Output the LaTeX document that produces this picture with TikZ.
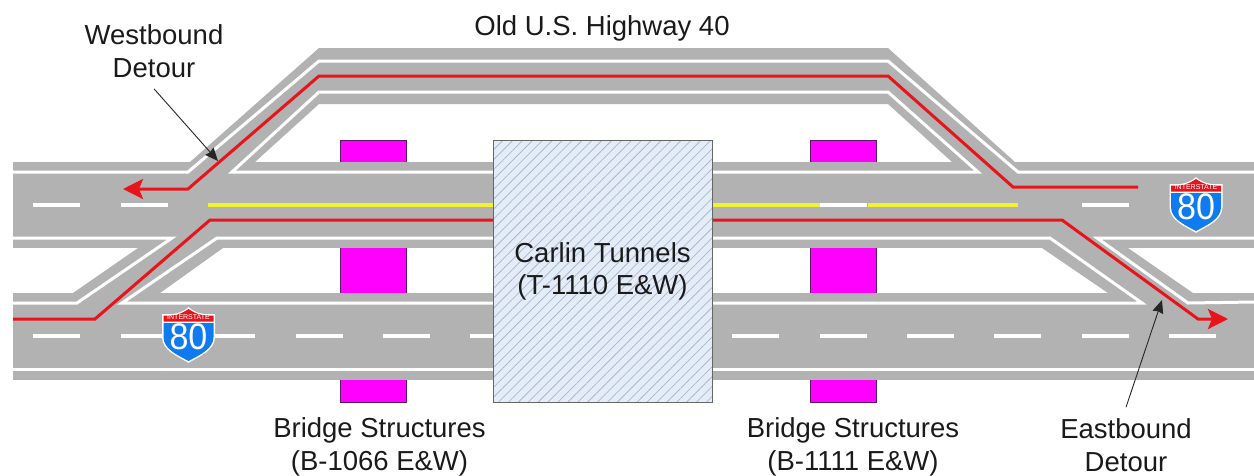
\documentclass[tikz,border=0pt]{standalone}
\usepackage{fontspec}
\setmainfont{Liberation Sans}
\usetikzlibrary{positioning,arrows.meta,patterns.meta}
\definecolor{hwRoad}{HTML}{B2B2B2}
\definecolor{hwRed}{HTML}{E8141C}
\definecolor{hwYellow}{HTML}{F2F230}
\definecolor{hwBridge}{HTML}{FF00FF}
\definecolor{hwBridgeD}{HTML}{5A1A6E}
\definecolor{hwTunnel}{HTML}{E4ECF8}
\definecolor{hwHatch}{HTML}{A9BACF}
\definecolor{hwBlue}{HTML}{0F7BEE}
\definecolor{hwText}{HTML}{1A1A1A}
\tikzset{
  hw-road/.style={fill=hwRoad},
  hw-edge/.style={draw=white, line width=3pt},
  hw-dash/.style={draw=white, line width=3.5pt},
  hw-center/.style={draw=hwYellow, line width=3.5pt},
  hw-detour/.style={draw=hwRed, line width=3pt,
    -{Stealth[length=20pt,width=20pt,inset=4pt]}},
  hw-bridge/.style={draw=hwBridgeD, line width=0.8pt, fill=hwBridge,
    minimum width=66pt, minimum height=262pt, inner sep=0pt},
  hw-tunnel/.style={draw=black!60, line width=1pt, preaction={fill=hwTunnel},
    pattern={Lines[angle=45,distance=7pt,line width=0.8pt]},
    pattern color=hwHatch, minimum width=219pt, minimum height=262pt,
    align=center, text=hwText, font=\fontsize{27.5}{32}\selectfont},
  hw-label/.style={align=center, inner sep=0pt, text=hwText,
    font=\fontsize{27.5}{33}\selectfont},
  hw-call/.style={draw=black!85, line width=0.9pt,
    -{Stealth[length=13pt,width=11pt,inset=1pt]}},
  hw-shield/.pic={
    \fill[white] (-26.5,6) .. controls (-14,7) and (-7,5) .. (0,-0.8)
      .. controls (7,5) and (14,7) .. (26.5,6) -- (26.5,29)
      .. controls (26.5,42) and (12,48) .. (0,54.8)
      .. controls (-12,48) and (-26.5,42) .. (-26.5,29) -- cycle;
    \fill[hwBlue] (-25,15) -- (25,15) -- (25,29)
      .. controls (25,41) and (11,47) .. (0,53)
      .. controls (-11,47) and (-25,41) .. (-25,29) -- cycle;
    \fill[hwRed] (-25,7.5) .. controls (-14,8) and (-7,6) .. (0,1)
      .. controls (7,6) and (14,8) .. (25,7.5) -- (25,13.5) -- (-25,13.5) -- cycle;
    \node[text=white, inner sep=0pt, font=\fontsize{7}{7}\selectfont]
      at (0,9.5) {INTERSTATE};
    \node[text=white, inner sep=0pt, xscale=0.92, font=\fontsize{37}{37}\selectfont]
      at (0,29) {80};
  }
}
\begin{document}
\begin{tikzpicture}[x=1pt,y=-1pt]
\useasboundingbox (0,0) rectangle (1254,475);

% bridges below the roads
\node[hw-bridge] (bridgeW) at (373.5,271) {};
\node[hw-bridge] (bridgeE) at (843,271) {};

% road surface
\fill[hw-road] (13,162) rectangle (1254,248);
\fill[hw-road] (13,293) rectangle (1254,380);
\fill[hw-road] (190,162) -- (319,48) -- (888,48) -- (1015,162) -- (952,162)
  -- (888,104) -- (319,104) -- (255,162) -- cycle;
\fill[hw-road] (138,248) -- (73,293) -- (160,293) -- (223,248) -- cycle;
\fill[hw-road] (1042,248) -- (1108,293) -- (1193,293) -- (1128,248) -- cycle;

% edge lines
\draw[hw-edge] (13,172) -- (188,172) -- (319,61) -- (888,61) -- (1018,172)
  -- (1254,172);
\draw[hw-edge] (232,172) -- (319,92) -- (888,92) -- (978,172) -- cycle;
\draw[hw-edge] (13,238) -- (172,238) -- (77,303) -- (13,303);
\draw[hw-edge] (217,238) -- (1050,238) -- (1142,303) -- (122,303) -- cycle;
\draw[hw-edge] (1254,238) -- (1097,238) -- (1188,303) -- (1254,302);
\draw[hw-edge] (13,369) -- (1254,369);

% lane dashes
\foreach \x in {33,120.5,820,1082}
  \draw[hw-dash] (\x,205) -- ++(47,0);
\foreach \x in {33,120.5,208,295.5,382.5,470,732,820,907,994,1082,1169}
  \draw[hw-dash] (\x,336) -- ++(47,0);
\draw[hw-center] (208,205) -- (493,205);
\draw[hw-center] (712,205) -- (820,205);
\draw[hw-center] (868,205) -- (1018,205);

% detours
\coordinate (wbStart) at (1138,187);
\coordinate (wbEnd) at (123,189);
\coordinate (ebStart) at (13,319);
\coordinate (ebEnd) at (1228,319);
\draw[hw-detour] (wbStart) -- (1013,187) -- (888,76) -- (319,76) -- (188,189)
  -- (wbEnd);
\draw[hw-detour] (ebStart) -- (95,319) -- (210,220) -- (1062,220) -- (1198,319)
  -- (ebEnd);

\node[hw-tunnel] (tunnel) at (602.5,271) {Carlin Tunnels\\(T-1110 E\&W)};

\pic at (188.5,308) {hw-shield};
\pic at (1196,178) {hw-shield};

% labels
\node[hw-label] (oldHwy) at (602,28) {Old U.S. Highway 40};
\node[hw-label] (westLbl) at (154,51) {Westbound\\Detour};
\node[hw-label, below=15pt of bridgeW, xshift=6pt] (bridgeWLbl)
  {Bridge Structures\\(B-1066 E\&W)};
\node[hw-label, below=15pt of bridgeE, xshift=10pt] (bridgeELbl)
  {Bridge Structures\\(B-1111 E\&W)};
\node[hw-label] (eastLbl) at (1126,445) {Eastbound\\Detour};

\coordinate (westTip) at (218,161);
\coordinate (eastTip) at (1162,300);
\draw[hw-call] ([yshift=-11pt]westLbl.south) -- (westTip);
\draw[hw-call] ([yshift=11pt]eastLbl.north) -- (eastTip);
\end{tikzpicture}
\end{document}
